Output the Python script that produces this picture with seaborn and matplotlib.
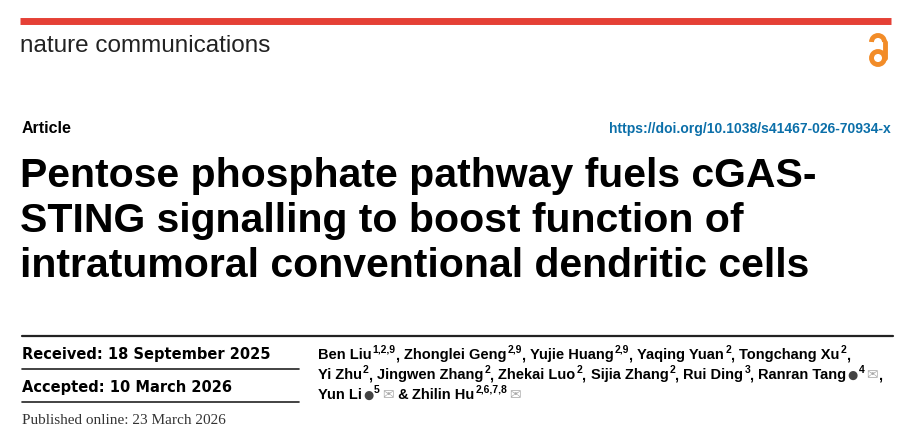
import matplotlib.pyplot as plt
import seaborn as sns
from matplotlib.patches import Circle, Arc

sns.set_theme(style="white")
plt.rcParams['font.family'] = ['Liberation Sans', 'DejaVu Sans']
plt.rcParams['mathtext.fontset'] = 'custom'
plt.rcParams['mathtext.rm'] = 'Liberation Sans:bold'
plt.rcParams['mathtext.it'] = 'Liberation Sans:bold'
plt.rcParams['mathtext.bf'] = 'Liberation Sans:bold'

journal = "nature communications"
article_type = "Article"
doi = "https://doi.org/10.1038/s41467-026-70934-x"
title_lines = ["Pentose phosphate pathway fuels cGAS-",
               "STING signalling to boost function of",
               "intratumoral conventional dendritic cells"]
dates = ["Received: 18 September 2025", "Accepted: 10 March 2026"]
published = "Published online: 23 March 2026"
# (name, affiliations, orcid, email, separator)
authors = [
    ("Ben Liu", "1,2,9", False, False, ", "),
    ("Zhonglei Geng", "2,9", False, False, ", "),
    ("Yujie Huang", "2,9", False, False, ", "),
    ("Yaqing Yuan", "2", False, False, ", "),
    ("Tongchang Xu", "2", False, False, ",\n"),
    ("Yi Zhu", "2", False, False, ", "),
    ("Jingwen Zhang", "2", False, False, ", "),
    ("Zhekai Luo", "2", False, False, ", "),
    ("Sijia Zhang", "2", False, False, ", "),
    ("Rui Ding", "3", False, False, ", "),
    ("Ranran Tang", "4", True, True, ",\n"),
    ("Yun Li", "5", True, True, " & "),
    ("Zhilin Hu", "2,6,7,8", False, True, ""),
]

fig = plt.figure(figsize=(9.21, 4.30), dpi=100)
ax = fig.add_axes([0, 0, 1, 1])
ax.set_xlim(0, 921)
ax.set_ylim(430, 0)
ax.axis('off')
renderer = fig.canvas.get_renderer()


def put(x, y, s, **kw):
    t = ax.text(x, y, s, va='baseline', **kw)
    bb = t.get_window_extent(renderer)
    return x + bb.width


# header
ax.plot([20, 891], [21, 21], color='#e54036', lw=5, solid_capstyle='butt')
ax.text(20, 52, journal, fontsize=17.5, color='#222222', va='baseline')
oc = '#f28c28'
ax.add_patch(Circle((878, 58), 6.5, fill=False, ec=oc, lw=3.5))
ax.add_patch(Arc((878, 42), 13, 13, theta1=180, theta2=360, ec=oc, lw=3.5))
ax.plot([884.5, 884.5], [42, 58], color=oc, lw=3.5)

ax.text(22, 133, article_type, fontsize=11.5, fontweight='bold', va='baseline', color='black')
ax.text(891, 133, doi, fontsize=10, fontweight='bold', va='baseline', ha='right', color='#0b6fa9')

for i, line in enumerate(title_lines):
    ax.text(20, 187 + i * 45, line, fontsize=29.5, fontweight='bold', va='baseline', color='black')

# dates
ax.plot([22, 893], [336, 336], color='#222222', lw=1.6)
for i, d in enumerate(dates):
    ax.text(22, 359 + i * 33, d, fontsize=10.5, fontweight='bold', fontfamily='DejaVu Sans',
            va='baseline', color='black')
    ax.plot([22, 299], [369 + i * 33, 369 + i * 33], color='#222222', lw=1.2)
ax.text(22, 424, published, fontsize=11, fontfamily='Liberation Serif', va='baseline', color='#333333')

# authors
x, y = 318, 359
for name, aff, orcid, mail, sep in authors:
    x = put(x, y, name, fontsize=10.5, fontweight='bold', color='black')
    if orcid:
        x = put(x + 1, y, "●", fontsize=8.5, fontfamily='DejaVu Sans', color='#444444')
    x = put(x + 1, y - 6, aff, fontsize=7.5, fontweight='bold', color='black')
    if mail:
        x = put(x + 2, y, "✉", fontsize=10, fontfamily='DejaVu Sans', color='#aaaaaa')
    if sep.endswith("\n"):
        put(x, y, sep.strip("\n"), fontsize=10.5, fontweight='bold', color='black')
        x, y = 318, y + 20
    elif sep:
        x = put(x, y, sep, fontsize=10.5, fontweight='bold', color='black')

fig.savefig("out.png", dpi=100)
